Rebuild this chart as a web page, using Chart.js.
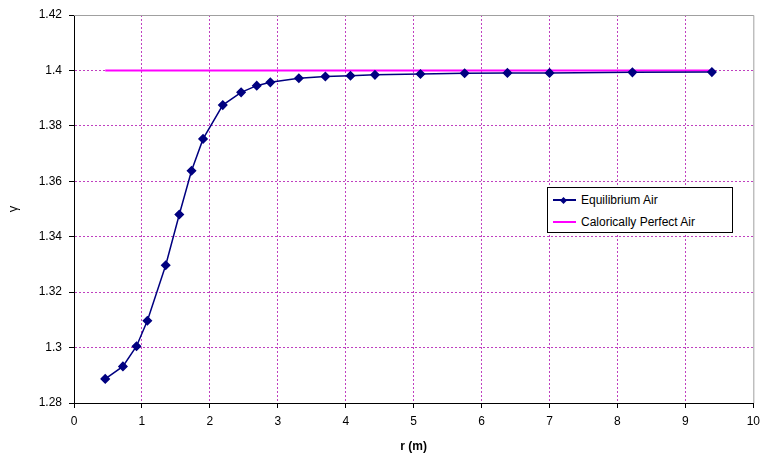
<!DOCTYPE html>
<html lang="en">
<head>
  <meta charset="UTF-8"/>
  <title>Gamma vs r</title>
  <script src="https://cdn.jsdelivr.net/npm/chart.js"></script>
  <style>
    body { margin: 0; background: #fff; }
    .wrap { position: relative; width: 766px; height: 469px; }
    /* legend box drawn as html on top of the plot */
    .legend {
      position: absolute; left: 547px; top: 187px; width: 184px; height: 44px;
      border: 1px solid #000; background: #fff;
      font: 12px "Liberation Sans", Arial, sans-serif; color: #000;
    }
    .row { position: absolute; left: 4px; height: 14px; line-height: 14px; }
    .row .sample { position: absolute; left: 1px; top: 6px; width: 23px; height: 0; }
    .row .label { position: absolute; left: 29px; top: 0; white-space: nowrap; }
    .diamond {
      position: absolute; left: 8px; top: -3px; width: 5px; height: 5px;
      background: #000080; transform: rotate(45deg);
    }
  </style>
</head>
<body>
  <div class="wrap">
    <canvas id="chart" width="766" height="469"></canvas>
    <div class="legend">
      <div class="row" style="top:5px">
        <span class="sample" style="border-top:2px solid #000080"><span class="diamond"></span></span>
        <span class="label">Equilibrium Air</span>
      </div>
      <div class="row" style="top:27px">
        <span class="sample" style="border-top:2px solid #ff00ff"></span>
        <span class="label">Calorically Perfect Air</span>
      </div>
    </div>
  </div>

  <script>
    // values
    const radius = [0.46, 0.72, 0.92, 1.08, 1.35, 1.55, 1.73, 1.90, 2.19, 2.46, 2.69, 2.89,
                    3.31, 3.70, 4.07, 4.43, 5.10, 5.75, 6.38, 7.00, 8.22, 9.39];
    const gammaEq = [1.2887, 1.2932, 1.3005, 1.3097, 1.3297, 1.3480, 1.3638, 1.3753, 1.3875,
                     1.3921, 1.3945, 1.3957, 1.3972, 1.3978, 1.3981, 1.3984, 1.3987, 1.3990,
                     1.3991, 1.3991, 1.3993, 1.3994];
    const perfectR = [0.46, 9.39];
    const perfectGamma = [1.4, 1.4];

    const font = { family: '"Liberation Sans", Arial, sans-serif', size: 12 };
    const gridColor = 'rgb(192, 64, 192)';

    // gray frame on top and right of the plot area
    const frame = {
      id: 'frame',
      afterDraw(chart) {
        const { ctx, chartArea: a } = chart;
        ctx.save();
        ctx.strokeStyle = '#a0a0a0';
        ctx.lineWidth = 1;
        ctx.beginPath();
        ctx.moveTo(a.left, a.top + 0.5);
        ctx.lineTo(a.right + 0.5, a.top + 0.5);
        ctx.lineTo(a.right + 0.5, a.bottom);
        ctx.stroke();
        ctx.restore();
      }
    };

    // grid lines only strictly inside the plot area
    const innerGrid = (ctx) => {
      const s = ctx.scale;
      const v = ctx.tick ? ctx.tick.value : null;
      if (v === null) return gridColor;
      return (Math.abs(v - s.min) < 1e-9 || Math.abs(v - s.max) < 1e-9) ? 'rgba(255,255,255,0)' : gridColor;
    };

    new Chart(document.getElementById('chart'), {
      type: 'scatter',
      data: {
        datasets: [
          {
            label: 'Equilibrium Air',
            data: radius.map((r, i) => ({ x: r, y: gammaEq[i] })),
            showLine: true,
            borderColor: '#000080',
            backgroundColor: '#000080',
            borderWidth: 1.5,
            pointStyle: 'rectRot',
            pointRadius: 4,
            order: 1
          },
          {
            label: 'Calorically Perfect Air',
            data: perfectR.map((r, i) => ({ x: r, y: perfectGamma[i] })),
            showLine: true,
            borderColor: '#ff00ff',
            borderWidth: 2,
            pointRadius: 0,
            order: 2
          }
        ]
      },
      options: {
        responsive: false,
        animation: false,
        layout: { padding: { top: 15, right: 9, left: 0, bottom: 0 } },
        plugins: { legend: { display: false }, tooltip: { enabled: false } },
        scales: {
          x: {
            min: 0, max: 10,
            afterFit(scale) { scale.height = 66; },
            ticks: { stepSize: 1, color: '#000', font, padding: 6, maxRotation: 0 },
            grid: {
              color: innerGrid, lineWidth: 1, drawTicks: true, tickLength: 5,
              tickColor: '#000', tickBorderDash: []
            },
            border: { color: '#000', width: 1, dash: [2, 2] },
            title: {
              display: true, text: 'r (m)', color: '#000',
              font: { family: font.family, size: 12, weight: 'bold' },
              padding: { top: 0, bottom: 15 }
            }
          },
          y: {
            min: 1.28, max: 1.42,
            afterFit(scale) { scale.width = 74; },
            ticks: {
              stepSize: 0.02, color: '#000', font, padding: 7,
              callback: (v) => String(Number(v.toFixed(2)))
            },
            grid: {
              color: innerGrid, lineWidth: 1, drawTicks: true, tickLength: 5,
              tickColor: '#000', tickBorderDash: []
            },
            border: { color: '#000', width: 1, dash: [2, 2] },
            title: {
              display: true, text: 'γ', color: '#000',
              font: { family: font.family, size: 13 },
              padding: { top: 6, bottom: 0 }
            }
          }
        }
      },
      plugins: [frame]
    });
  </script>
</body>
</html>
